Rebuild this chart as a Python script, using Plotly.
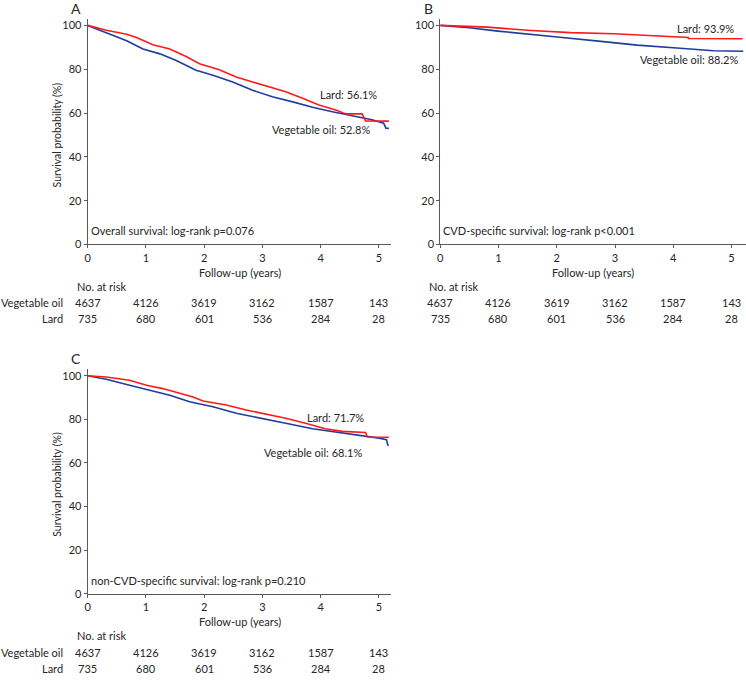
import plotly.graph_objects as go

# ---------------- data ----------------
years_ticks = [0, 1, 2, 3, 4, 5]
y_ticks = [0, 20, 40, 60, 80, 100]

risk_veg = [4637, 4126, 3619, 3162, 1587, 143]
risk_lard = [735, 680, 601, 536, 284, 28]

# Panel A: overall survival
a_lard_t = [0, 0.32, 0.67, 0.84, 1.12, 1.41, 1.69, 1.92, 2.26, 2.55, 2.83, 3.12, 3.40, 3.69, 3.97, 4.26, 4.43, 4.71, 4.77, 5.17]
a_lard_s = [100, 97.8, 96.0, 94.5, 91.2, 89.2, 85.8, 82.5, 79.8, 76.4, 74.2, 71.9, 69.7, 66.7, 63.7, 61.4, 59.6, 59.6, 56.4, 56.3]
a_veg_t = [0, 0.32, 0.67, 0.95, 1.24, 1.52, 1.86, 2.15, 2.49, 2.83, 3.17, 3.52, 3.86, 4.20, 4.54, 4.88, 5.08, 5.12, 5.17]
a_veg_s = [100, 96.7, 93.0, 89.2, 87.0, 84.0, 79.5, 77.2, 74.2, 70.4, 67.4, 65.1, 62.6, 60.6, 58.7, 56.9, 55.4, 53.1, 53.0]

# Panel B: CVD-specific survival
b_lard_t = [0, 0.81, 1.56, 2.24, 2.98, 3.38, 3.95, 4.26, 4.26, 5.19]
b_lard_s = [100, 99.2, 97.7, 96.7, 96.2, 95.6, 94.7, 94.5, 94.0, 93.9]
b_veg_t = [0, 0.5, 0.99, 1.5, 2.01, 2.8, 3.38, 4.12, 4.69, 5.2]
b_veg_s = [100, 98.9, 97.4, 96.2, 94.7, 92.6, 91.0, 89.6, 88.4, 88.2]

# Panel C: non-CVD-specific survival
c_lard_t = [0, 0.32, 0.72, 1.01, 1.29, 1.58, 1.81, 1.98, 2.38, 2.72, 3.0, 3.40, 3.74, 4.08, 4.37, 4.77, 4.80, 5.17]
c_lard_s = [100, 99.4, 97.9, 95.6, 94.1, 91.8, 90.3, 88.4, 86.6, 84.3, 82.8, 80.5, 78.2, 75.7, 74.5, 74.0, 71.9, 71.8]
c_veg_t = [0, 0.32, 0.72, 1.07, 1.41, 1.75, 2.15, 2.55, 2.95, 3.40, 3.86, 4.26, 4.66, 5.0, 5.13, 5.15, 5.17]
c_veg_s = [100, 98.4, 95.6, 93.4, 91.1, 88.1, 85.8, 82.8, 80.5, 78.2, 75.7, 74.2, 73.0, 71.4, 70.7, 68.3, 68.2]

panel_letters = ["A", "B", "C"]
test_texts = ["Overall survival: log-rank p=0.076",
              "CVD-specific survival: log-rank p<0.001",
              "non-CVD-specific survival: log-rank p=0.210"]
lard_labels = ["Lard: 56.1%", "Lard: 93.9%", "Lard: 71.7%"]
veg_labels = ["Vegetable oil: 52.8%", "Vegetable oil: 88.2%", "Vegetable oil: 68.1%"]

# ---------------- styling ----------------
W, H = 746, 683
FONT = "Lato"
RED = "#ff1a1a"
BLUE = "#1f3d9c"
AX = "#595959"
TXT = "#262626"

def px(x):
    return x / W

def py(y):
    return (H - y) / H

fig = go.Figure()

series = [
    ("x", "y", a_veg_t, a_veg_s, a_lard_t, a_lard_s),
    ("x2", "y2", b_veg_t, b_veg_s, b_lard_t, b_lard_s),
    ("x3", "y3", c_veg_t, c_veg_s, c_lard_t, c_lard_s),
]
for xa, ya, vt, vs, lt, ls in series:
    fig.add_trace(go.Scatter(x=vt, y=vs, mode="lines", xaxis=xa, yaxis=ya,
                             line=dict(color=BLUE, width=1.6), showlegend=False))
    fig.add_trace(go.Scatter(x=lt, y=ls, mode="lines", xaxis=xa, yaxis=ya,
                             line=dict(color=RED, width=1.6), showlegend=False))

# panel geometry in pixels
panels = [
    dict(x0=85, x1=390, xmax=5.214, ytop=18, ybot=246),
    dict(x0=439, x1=746, xmax=5.248, ytop=18, ybot=246),
    dict(x0=85, x1=390, xmax=5.214, ytop=372, ybot=599),
]

axis_common = dict(showgrid=False, zeroline=False, showline=True, linecolor=AX,
                   linewidth=1, ticks="outside", ticklen=3, tickcolor=AX,
                   tickfont=dict(family=FONT, size=11, color=TXT))

layout = dict(width=W, height=H, margin=dict(l=0, r=0, t=0, b=0),
              paper_bgcolor="white", plot_bgcolor="white", showlegend=False)

annotations = []
for i, p in enumerate(panels):
    sfx = "" if i == 0 else str(i + 1)
    layout["xaxis" + sfx] = dict(axis_common, domain=[px(p["x0"]), px(p["x1"])],
                                 range=[0, p["xmax"]], tickvals=years_ticks,
                                 anchor="y" + sfx)
    layout["yaxis" + sfx] = dict(axis_common, domain=[py(p["ybot"]), py(p["ytop"])],
                                 range=[0, 103], tickvals=y_ticks,
                                 anchor="x" + sfx)
    xr = "x" + sfx
    yb = p["ybot"]
    base = dict(showarrow=False, font=dict(family=FONT, size=11, color=TXT))
    # panel letter
    annotations.append(dict(base, text=panel_letters[i], xref="paper", yref="paper",
                            x=px(p["x0"] - 12), y=py(yb - 238), xanchor="center",
                            yanchor="middle", font=dict(family=FONT, size=14, color=TXT)))
    # y-axis title
    if i != 1:
        annotations.append(dict(base, text="Survival probability (%)", xref="paper",
                                yref="paper", x=px(p["x0"] - 31), y=py(yb - 111),
                                xanchor="center", yanchor="middle", textangle=-90,
                                font=dict(family=FONT, size=10.5, color=TXT)))
    # x-axis title
    annotations.append(dict(base, text="Follow-up (years)", xref="paper", yref="paper",
                            x=px((p["x0"] + p["x1"]) / 2), y=py(yb + 28),
                            xanchor="center", yanchor="middle"))
    # test text
    annotations.append(dict(base, text=test_texts[i], xref="paper", yref="paper",
                            x=px(p["x0"] + 1), y=py(yb - 14), xanchor="left",
                            yanchor="middle"))
    # No. at risk
    annotations.append(dict(base, text="No. at risk", xref="paper", yref="paper",
                            x=px(p["x0"] - 13), y=py(yb + 42), xanchor="left",
                            yanchor="middle"))
    if i != 1:
        annotations.append(dict(base, text="Vegetable oil", xref="paper", yref="paper",
                                x=px(p["x0"] - 23), y=py(yb + 59), xanchor="right",
                                yanchor="middle"))
        annotations.append(dict(base, text="Lard", xref="paper", yref="paper",
                                x=px(p["x0"] - 23), y=py(yb + 75), xanchor="right",
                                yanchor="middle"))
    for t, nv, nl in zip(years_ticks, risk_veg, risk_lard):
        annotations.append(dict(base, text=str(nv), xref=xr, yref="paper", x=t,
                                y=py(yb + 59), xanchor="center", yanchor="middle"))
        annotations.append(dict(base, text=str(nl), xref=xr, yref="paper", x=t,
                                y=py(yb + 75), xanchor="center", yanchor="middle"))

# curve end labels
label_pos = [
    dict(xr="x", yr="y", lx=5.0, ly=68.5, vx=4.88, vy=52.3),
    dict(xr="x2", yr="y2", lx=5.07, ly=98.5, vx=5.14, vy=84.3),
    dict(xr="x3", yr="y3", lx=4.78, ly=80.8, vx=4.74, vy=65.0),
]
for i, lp in enumerate(label_pos):
    annotations.append(dict(showarrow=False, font=dict(family=FONT, size=11, color=TXT),
                            text=lard_labels[i], xref=lp["xr"], yref=lp["yr"],
                            x=lp["lx"], y=lp["ly"], xanchor="right", yanchor="middle"))
    annotations.append(dict(showarrow=False, font=dict(family=FONT, size=11, color=TXT),
                            text=veg_labels[i], xref=lp["xr"], yref=lp["yr"],
                            x=lp["vx"], y=lp["vy"], xanchor="right", yanchor="middle"))

layout["annotations"] = annotations
fig.update_layout(**layout)
fig.write_html("out.html")
